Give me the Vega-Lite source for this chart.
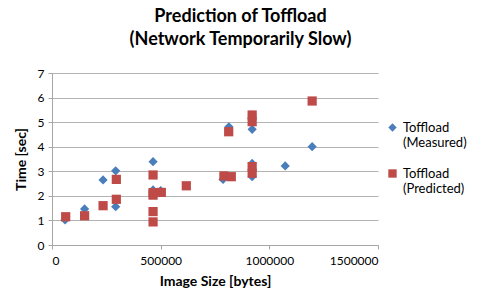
{
  "$schema": "https://vega.github.io/schema/vega-lite/v6.json",
  "width": 326,
  "height": 172,
  "padding": {"left": 14, "top": 8, "right": 5, "bottom": 3},
  "background": "white",
  "title": {
    "text": ["Prediction of Toffload", "(Network Temporarily Slow)"],
    "font": "Lato",
    "fontSize": 18,
    "fontWeight": "bold",
    "color": "#000000",
    "anchor": "middle",
    "frame": "bounds",
    "lineHeight": 23,
    "offset": 18
  },
  "config": {
    "view": {"stroke": null},
    "font": "Lato"
  },
  "data": {
    "values": [
      {"size": 60000, "time": 1.02, "series": "Toffload|(Measured)"},
      {"size": 150000, "time": 1.47, "series": "Toffload|(Measured)"},
      {"size": 235000, "time": 2.65, "series": "Toffload|(Measured)"},
      {"size": 293000, "time": 3.02, "series": "Toffload|(Measured)"},
      {"size": 293000, "time": 1.56, "series": "Toffload|(Measured)"},
      {"size": 465000, "time": 3.39, "series": "Toffload|(Measured)"},
      {"size": 465000, "time": 2.24, "series": "Toffload|(Measured)"},
      {"size": 500000, "time": 2.21, "series": "Toffload|(Measured)"},
      {"size": 787000, "time": 2.67, "series": "Toffload|(Measured)"},
      {"size": 814000, "time": 4.81, "series": "Toffload|(Measured)"},
      {"size": 921000, "time": 4.71, "series": "Toffload|(Measured)"},
      {"size": 921000, "time": 5.29, "series": "Toffload|(Measured)"},
      {"size": 921000, "time": 3.32, "series": "Toffload|(Measured)"},
      {"size": 921000, "time": 2.78, "series": "Toffload|(Measured)"},
      {"size": 1073000, "time": 3.22, "series": "Toffload|(Measured)"},
      {"size": 1197000, "time": 4.0, "series": "Toffload|(Measured)"},
      {"size": 63000, "time": 1.15, "series": "Toffload|(Predicted)"},
      {"size": 150000, "time": 1.19, "series": "Toffload|(Predicted)"},
      {"size": 235000, "time": 1.6, "series": "Toffload|(Predicted)"},
      {"size": 296000, "time": 2.67, "series": "Toffload|(Predicted)"},
      {"size": 296000, "time": 1.86, "series": "Toffload|(Predicted)"},
      {"size": 465000, "time": 2.85, "series": "Toffload|(Predicted)"},
      {"size": 465000, "time": 2.13, "series": "Toffload|(Predicted)"},
      {"size": 465000, "time": 2.03, "series": "Toffload|(Predicted)"},
      {"size": 465000, "time": 1.36, "series": "Toffload|(Predicted)"},
      {"size": 465000, "time": 0.94, "series": "Toffload|(Predicted)"},
      {"size": 503000, "time": 2.14, "series": "Toffload|(Predicted)"},
      {"size": 618000, "time": 2.41, "series": "Toffload|(Predicted)"},
      {"size": 791000, "time": 2.81, "series": "Toffload|(Predicted)"},
      {"size": 825000, "time": 2.78, "series": "Toffload|(Predicted)"},
      {"size": 813000, "time": 4.61, "series": "Toffload|(Predicted)"},
      {"size": 921000, "time": 5.29, "series": "Toffload|(Predicted)"},
      {"size": 921000, "time": 5.02, "series": "Toffload|(Predicted)"},
      {"size": 921000, "time": 3.19, "series": "Toffload|(Predicted)"},
      {"size": 921000, "time": 2.92, "series": "Toffload|(Predicted)"},
      {"size": 1197000, "time": 5.86, "series": "Toffload|(Predicted)"}
    ]
  },
  "mark": {"type": "point", "filled": true, "opacity": 1, "size": 85},
  "encoding": {
    "x": {
      "field": "size",
      "type": "quantitative",
      "scale": {"domain": [0, 1500000], "nice": false},
      "axis": {
        "title": "Image Size [bytes]",
        "values": [0, 500000, 1000000, 1500000],
        "format": "d",
        "grid": false,
        "domainColor": "#A6A6A6",
        "tickColor": "#A6A6A6",
        "tickSize": 4,
        "labelFontSize": 12,
        "labelColor": "#000000",
        "labelPadding": 6,
        "titleFontSize": 14,
        "titleFontWeight": "bold",
        "titleColor": "#000000",
        "titlePadding": 8
      }
    },
    "y": {
      "field": "time",
      "type": "quantitative",
      "scale": {"domain": [0, 7], "nice": false},
      "axis": {
        "title": "Time [sec]",
        "values": [0, 1, 2, 3, 4, 5, 6, 7],
        "grid": true,
        "gridColor": "#B3B3B3",
        "gridWidth": 1,
        "domainColor": "#A6A6A6",
        "tickColor": "#A6A6A6",
        "tickSize": 4,
        "labelFontSize": 12,
        "labelColor": "#000000",
        "labelPadding": 4,
        "titleFontSize": 14,
        "titleFontWeight": "bold",
        "titleColor": "#000000",
        "titlePadding": 9
      }
    },
    "color": {
      "field": "series",
      "type": "nominal",
      "scale": {"domain": ["Toffload|(Measured)", "Toffload|(Predicted)"], "range": ["#4A7EBB", "#BE4B48"]},
      "legend": {
        "title": null,
        "orient": "none",
        "legendX": 334,
        "legendY": 48,
        "labelExpr": "split(datum.label, '|')",
        "labelFontSize": 13,
        "labelColor": "#000000",
        "symbolSize": 70,
        "rowPadding": 17,
        "labelOffset": 4
      }
    },
    "shape": {
      "field": "series",
      "type": "nominal",
      "scale": {"domain": ["Toffload|(Measured)", "Toffload|(Predicted)"], "range": ["diamond", "square"]},
      "legend": {
        "title": null,
        "orient": "none",
        "legendX": 334,
        "legendY": 48,
        "labelExpr": "split(datum.label, '|')",
        "labelFontSize": 13,
        "labelColor": "#000000",
        "symbolSize": 70,
        "rowPadding": 17,
        "labelOffset": 4
      }
    }
  }
}
